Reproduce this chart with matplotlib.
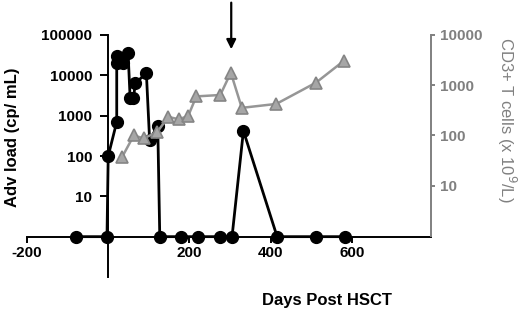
import numpy as np
import matplotlib
matplotlib.use('Agg')
import matplotlib.pyplot as plt

plt.rcParams['font.family'] = ['Liberation Sans', 'DejaVu Sans']

# Adenovirus load (cp/mL); 0 = undetectable, drawn on the x axis (y = 1)
adv_days = [-80, -3, 0, 21, 21, 22, 37, 49, 54, 62, 67, 94, 102, 122, 127,
            180, 220, 275, 305, 333, 416, 513, 582]
adv_load = [0, 0, 100, 700, 30000, 20000, 20000, 35000, 2700, 2700, 6400,
            11300, 245, 570, 0, 0, 0, 0, 0, 420, 0, 0, 0]

# CD3+ T cells (x 10^9/L)
cd3_days = [34, 63, 87, 120, 148, 174, 197, 217, 276, 302, 329, 414, 512, 581]
cd3_vals = [37, 100, 88, 115, 235, 210, 245, 600, 640, 1780, 355, 425, 1130, 3090]

x_ticks = [-200, 200, 400, 600]
left_ticks = [10, 100, 1000, 10000, 100000]
right_ticks = [10, 100, 1000, 10000]
arrow_day = 303

GRAY = '#808080'

fig = plt.figure(figsize=(5.2, 3.11), dpi=100)
ax = fig.add_axes([27 / 520, 1 - 277 / 311, 404 / 520, 242 / 311])
ax2 = ax.twinx()

adv_plot = np.where(np.array(adv_load) > 0, adv_load, 1)

# CD3 series (right axis)
ax2.plot(cd3_days, cd3_vals, '-', color='#969696', lw=1.8, marker='^',
         ms=8, mfc='#a6a6a6', mec='#858585', mew=1.2, zorder=3)
# Adv load series (left axis)
ax.plot(adv_days, adv_plot, '-', color='black', lw=2.0, marker='o', ms=8.5,
        clip_on=False, zorder=4)

ax.set_yscale('log')
ax.set_ylim(0.1, 1e5)
ax.set_xlim(-200, 795)
ax2.set_yscale('log')
ax2.set_ylim(10 ** -0.816, 1e4)

# spines
ax.spines['top'].set_visible(False)
ax.spines['right'].set_visible(False)
ax.spines['left'].set_position(('data', 0))
ax.spines['bottom'].set_position(('data', 1))
for s in ('left', 'bottom'):
    ax.spines[s].set_linewidth(1.4)
ax2.spines['top'].set_visible(False)
ax2.spines['left'].set_visible(False)
ax2.spines['bottom'].set_visible(False)
ax2.spines['right'].set_color(GRAY)
ax2.spines['right'].set_linewidth(1.4)
ax2.spines['right'].set_bounds(1, 1e4)

ax.set_xticks(x_ticks)
ax.set_xticklabels([str(t) for t in x_ticks], fontsize=11, fontweight='bold')
ax.set_yticks(left_ticks)
ax.set_yticklabels([str(t) for t in left_ticks], fontsize=11, fontweight='bold')
ax.yaxis.set_minor_locator(matplotlib.ticker.NullLocator())
ax.tick_params(axis='x', direction='out', length=4, width=1.4, pad=3)
ax.tick_params(axis='y', direction='out', length=5.5, width=1.4, pad=6)

ax2.set_yticks(right_ticks)
ax2.set_yticklabels([str(t) for t in right_ticks], fontsize=11,
                    fontweight='bold', color=GRAY)
ax2.yaxis.set_minor_locator(matplotlib.ticker.NullLocator())
ax2.tick_params(axis='y', direction='out', length=3, width=1.4, color=GRAY)

fig.text(13 / 520, 1 - 137 / 311, 'Adv load (cp/ mL)', rotation=90,
         ha='center', va='center', fontsize=12, fontweight='bold')
fig.text(507 / 520, 1 - 120 / 311, 'CD3+ T cells (x 10$^{9}$/L)', rotation=270,
         ha='center', va='center', fontsize=12, color=GRAY)
fig.text(327 / 520, 1 - 300 / 311, 'Days Post HSCT', ha='center',
         va='center', fontsize=12, fontweight='bold')

ax2.annotate('', xy=(arrow_day, 4580), xytext=(arrow_day, 50000),
             arrowprops=dict(arrowstyle='-|>', color='black', lw=1.6,
                             mutation_scale=14),
             annotation_clip=False)

fig.savefig('out.png', dpi=100)
